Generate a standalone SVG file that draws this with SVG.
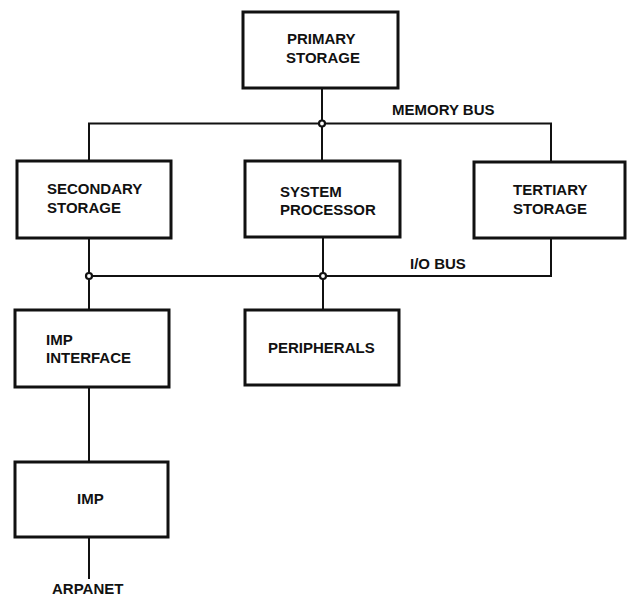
<svg xmlns="http://www.w3.org/2000/svg" width="630" height="598" viewBox="0 0 630 598">
  <style>
    .box { fill: #fff; stroke: #111; stroke-width: 3; }
    .wire { fill: none; stroke: #111; stroke-width: 2; }
    .dot { fill: #fff; stroke: #111; stroke-width: 2.2; }
    text { font-family: "Liberation Sans", Arial, sans-serif; font-weight: bold; font-size: 15px; fill: #111; }
  </style>
  <rect width="630" height="598" fill="#fff"/>

  <!-- buses and links -->
  <g id="connectors">
    <!-- memory bus -->
    <path class="wire" d="M322 88 V161"/>
    <path class="wire" d="M89 161 V123.5 H551 V162"/>
    <!-- I/O bus -->
    <path class="wire" d="M89 238 V387"/>
    <path class="wire" d="M89 276 H551 V238"/>
    <path class="wire" d="M323 237 V310"/>
    <!-- IMP link -->
    <path class="wire" d="M89 387 V462"/>
    <path class="wire" d="M89 537 V579"/>
    <circle class="dot" cx="322" cy="123.5" r="3"/>
    <circle class="dot" cx="89" cy="276" r="3"/>
    <circle class="dot" cx="323" cy="276" r="3"/>
  </g>

  <text x="392" y="115">MEMORY BUS</text>
  <text x="410" y="269">I/O BUS</text>
  <text x="52" y="594">ARPANET</text>

  <g id="primary-storage">
    <rect class="box" x="243" y="12" width="155" height="76"/>
    <text x="287" y="44">PRIMARY</text>
    <text x="286" y="63">STORAGE</text>
  </g>

  <g id="secondary-storage">
    <rect class="box" x="17" y="161" width="154" height="77"/>
    <text x="47" y="194">SECONDARY</text>
    <text x="47" y="213">STORAGE</text>
  </g>

  <g id="system-processor">
    <rect class="box" x="245" y="161" width="155" height="76"/>
    <text x="280" y="197">SYSTEM</text>
    <text x="280" y="215">PROCESSOR</text>
  </g>

  <g id="tertiary-storage">
    <rect class="box" x="474" y="162" width="151" height="76"/>
    <text x="513" y="195">TERTIARY</text>
    <text x="513" y="214">STORAGE</text>
  </g>

  <g id="imp-interface">
    <rect class="box" x="15" y="310" width="154" height="77"/>
    <text x="46" y="345">IMP</text>
    <text x="46" y="363">INTERFACE</text>
  </g>

  <g id="peripherals">
    <rect class="box" x="245" y="310" width="154" height="75"/>
    <text x="268" y="353">PERIPHERALS</text>
  </g>

  <g id="imp">
    <rect class="box" x="15" y="462" width="153" height="75"/>
    <text x="77" y="504">IMP</text>
  </g>
</svg>
